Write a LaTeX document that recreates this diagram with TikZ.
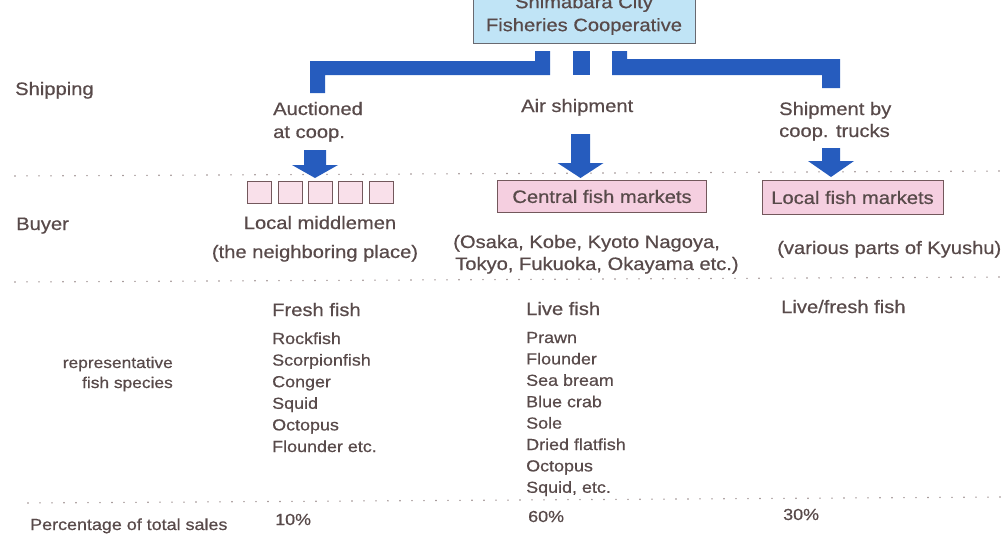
\documentclass[tikz,border=0pt]{standalone}
\usepackage{fontspec}
\setmainfont[FakeStretch=1.12, FakeBold=0.6]{Liberation Sans}
\usepackage{xcolor}
\usepackage{tikz}
\usetikzlibrary{positioning}

\definecolor{shipblue}{RGB}{38,92,190}
\definecolor{inktext}{RGB}{88,74,74}
\definecolor{coopfill}{RGB}{192,228,246}
\definecolor{coopline}{RGB}{105,105,112}
\definecolor{mktfill}{RGB}{245,207,224}
\definecolor{sqfill}{RGB}{249,224,234}
\definecolor{boxline}{RGB}{115,88,92}
\definecolor{dotgray}{RGB}{150,135,135}

\begin{document}
\begin{tikzpicture}[x=1pt, y=-1pt,
    every node/.style={text=inktext, inner sep=0pt},
    lbl/.style={font=\fontsize{18}{22}\selectfont, anchor=base west},
    species/.style={font=\fontsize{16}{20}\selectfont, anchor=base west},
    side/.style={font=\fontsize{15.5}{20}\selectfont, anchor=base east},
    coopbox/.style={draw=coopline, fill=coopfill, line width=0.9pt, align=center,
        minimum width=222, minimum height=56, font=\fontsize{18}{23}\selectfont},
    market/.style={draw=boxline, fill=mktfill, line width=0.9pt, font=\fontsize{18}{22}\selectfont},
    mdsq/.style={draw=boxline, fill=sqfill, line width=0.8pt, minimum width=24, minimum height=22},
    dotrow/.style={dotgray, line width=1.6pt, line cap=round, dash pattern=on 0pt off 12pt}]

    \clip (0,0) rectangle (1006,533);

    % Filas punteadas
    \foreach \xa/\ya/\yb in {15/176/171, 15/282/277, 28/503/497} {
        \draw[dotrow] (\xa,\ya) -- (1006,\yb);
    }

    % Cooperativa (cortada arriba)
    \node[coopbox] (coop) at (584,15) {Shimabara City\\Fisheries Cooperative};

    % Barras azules de envio
    \fill[shipblue] (310,93) -- (310,61) -- (535,61) -- (535,51) -- (550,51) -- (550,75) -- (325,75) -- (325,93) -- cycle;
    \fill[shipblue] (573,51) rectangle (590,75);
    \fill[shipblue] (612,51) -- (627,51) -- (627,59) -- (840,59) -- (840,88) -- (822,88) -- (822,75) -- (612,75) -- cycle;

    % Flechas gruesas
    \foreach \x/\w/\ya/\yb/\yc in {315/11/150/165/178, 580.5/9.5/134/163/178, 831/9/148/161/177} {
        \fill[shipblue] (\x-\w,\ya) -- (\x+\w,\ya) -- (\x+\w,\yb) -- (\x+23,\yb) -- (\x,\yc)
            -- (\x-23,\yb) -- (\x-\w,\yb) -- cycle;
    }

    % Textos de la izquierda
    \node[lbl] (ship) at (15,95) {Shipping};
    \node[lbl] (buyer) at (16,230) {Buyer};
    \node[side] (rep) at (173,368) {representative};
    \node[side] (rep2) at (173,388) {fish species};
    \node[species] (pct) at (30,530) {Percentage of total sales};

    % Formas de envio
    \node[lbl] (auc) at (273,115) {Auctioned};
    \node[lbl] (auc2) at (273,138) {at coop.};
    \node[lbl] (air) at (521,112) {Air shipment};
    \node[lbl] (truck) at (779,115) {Shipment by};
    \node[lbl] (truck2) at (779,137) {coop. trucks};

    % Compradores
    \foreach \i in {0,...,4} {
        \node[mdsq] (sq\i) at (259.5+30.4*\i, 192) {};
    }
    \node[lbl, anchor=base] (middle) at (320,229) {Local middlemen};
    \node[lbl, anchor=base] (neigh) at (315,258) {(the neighboring place)};
    \node[market, minimum width=209, minimum height=32] (central) at (602,196.5) {Central fish markets};
    \node[lbl] (cities) at (453,248) {(Osaka, Kobe, Kyoto Nagoya,};
    \node[lbl] (cities2) at (455,270) {Tokyo, Fukuoka, Okayama etc.)};
    \node[market, minimum width=181, minimum height=34] (localmk) at (852.5,197.5) {Local fish markets};
    \node[lbl] (kyushu) at (777,254) {(various parts of Kyushu)};

    % Especies
    \node[lbl] (fresh) at (272,316) {Fresh fish};
    \foreach \name [count=\k] in {Rockfish, Scorpionfish, Conger, Squid, Octopus, Flounder etc.} {
        \node[species] (fresh\k) at (272, 322.4+21.6*\k) {\name};
    }
    \node[lbl] (live) at (526,315) {Live fish};
    \foreach \name [count=\k] in {Prawn, Flounder, Sea bream, Blue crab, Sole, Dried flatfish, Octopus, {Squid, etc.}} {
        \node[species] (live\k) at (526, 321.6+21.4*\k) {\name};
    }
    \node[lbl] (livefresh) at (781,313) {Live/fresh fish};

    % Porcentajes
    \node[species] (p10) at (275,525) {10\%};
    \node[species] (p60) at (528,522) {60\%};
    \node[species] (p30) at (783,520) {30\%};

\end{tikzpicture}
\end{document}
